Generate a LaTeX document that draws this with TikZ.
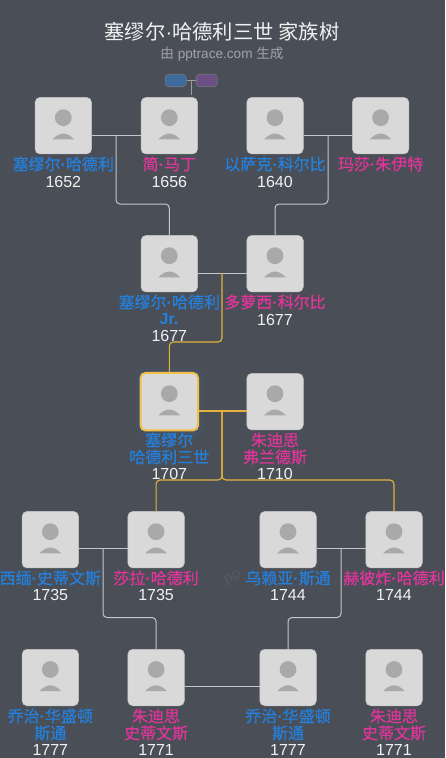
\documentclass[tikz,border=0pt]{standalone}
\usepackage{fontspec}
\setmainfont{Liberation Sans}
\newfontfamily\cjk{Noto Sans CJK SC}
\newfontfamily\cjkm[FakeBold=0.6]{Noto Sans CJK SC}
\usetikzlibrary{calc}
\definecolor{bgc}{HTML}{4A4F57}
\definecolor{cardc}{HTML}{D9D9D9}
\definecolor{iconc}{HTML}{A9A9A9}
\definecolor{malec}{HTML}{2480DC}
\definecolor{femc}{HTML}{E0359A}
\definecolor{goldc}{HTML}{E3B23C}
\definecolor{focusc}{HTML}{F2C044}
\definecolor{linec}{HTML}{C4C6C9}
\definecolor{pillm}{HTML}{3D6B9E}
\definecolor{pillf}{HTML}{6C4F85}
\newcommand{\dotc}{{\rmfamily\bfseries\textperiodcentered}}
\tikzset{
  x=1pt,y=-1pt,
  card/.style={draw=#1,fill=cardc,rounded corners=5pt,minimum width=56.5pt,minimum height=56.5pt,inner sep=0pt,line width=.5pt},
  card/.default={cardc!85!bgc},
  focus/.style={draw=focusc,fill=cardc,rounded corners=5pt,minimum width=57.5pt,minimum height=57.5pt,inner sep=0pt,line width=2pt},
  namem/.style={text=malec,font=\cjkm\fontsize{16}{17}\selectfont,align=center,inner sep=0pt,anchor=center},
  namef/.style={text=femc,font=\cjkm\fontsize{16}{17}\selectfont,align=center,inner sep=0pt,anchor=center},
  yearl/.style={text=white!92!bgc,font=\fontsize{16}{17}\selectfont,inner sep=0pt,anchor=center},
  link/.style={draw=linec,line width=1pt,rounded corners=4pt},
  glink/.style={draw=goldc,line width=1.1pt,rounded corners=4pt},
  pill/.style={rounded corners=3.5pt,minimum width=21pt,minimum height=12.5pt,inner sep=0pt,line width=.6pt},
}
\newcommand{\person}[4][card]{% style, name, x, y(top)
  \node[#1] (#2) at (#3,#4+28.5) {};
  \fill[iconc] (#3,#4+20.5) circle (8.4pt);
  \fill[iconc] (#3-11,#4+42.2) .. controls (#3-7,#4+38) and (#3-3,#4+36.3) .. (#3,#4+36.3) .. controls (#3+3,#4+36.3) and (#3+7,#4+38) .. (#3+11,#4+42.2) -- cycle;
}
\begin{document}
\begin{tikzpicture}
\useasboundingbox (0,0) rectangle (445,758);
\fill[bgc] (0,0) rectangle (445,758);
% glow round the focus person
\foreach \r/\o in {34/.04,31/.05,28/.07}{
  \fill[malec,opacity=\o,rounded corners=10pt] (169.3-\r-2,402-\r-2) rectangle (169.3+\r+2,402+\r+2);
}
% title
\node[text=white!92!bgc,font=\cjk\fontsize{20.3}{22}\selectfont,inner sep=0pt] (title) at (222,32) {塞缪尔{\rmfamily\textperiodcentered}哈德利三世 家族树};
\node[text=white!48!bgc,font=\fontsize{13.6}{15}\selectfont,inner sep=0pt] (sub) at (222,54.5) {{\cjk 由} pptrace.com {\cjk 生成}};
% watermark
\node[text=white,opacity=.05,rotate=30,font=\fontsize{15}{17}\selectfont\bfseries,inner sep=0pt] (wm) at (233,578) {pp};
% legend
\node[pill,fill=pillm,draw=white!22!bgc] (lm) at (175.7,80.5) {};
\node[pill,fill=pillf,draw=white!22!bgc] (lf) at (206.7,80.5) {};
\coordinate (lj) at (191,80.5);
\coordinate (ld) at (191,95);
\draw[draw=white!45!bgc,line width=.8pt] (lm) -- (lf);
\draw[draw=white!45!bgc,line width=.8pt] (lj) -- (ld);
% junctions and levels
\coordinate (j1) at (116,135.5); \coordinate (b1) at (0,204);
\coordinate (j2) at (328,135.5);
\coordinate (j3) at (222,273);   \coordinate (b3) at (0,342);
\coordinate (j4) at (222,411);   \coordinate (b4) at (0,480);
\coordinate (j5) at (103,548.5); \coordinate (b5) at (0,617.5);
\coordinate (j6) at (341,548.5);
\coordinate (j7) at (222,686.5);
% persons
\person{a1}{63.3}{97.2}
\person{a2}{169.3}{97.2}
\person{a3}{275}{97.2}
\person{a4}{380.6}{97.2}
\person{p1}{169.3}{235.2}
\person{p2}{275}{235.2}
\person[focus]{s1}{169.3}{373.2}
\person{s2}{275}{373.2}
\person{k1}{50.3}{511.2}
\person{k2}{156.1}{511.2}
\person{k3}{288}{511.2}
\person{k4}{394}{511.2}
\person{g1}{50.3}{649}
\person{g2}{156.1}{649}
\person{g3}{288}{649}
\person{g4}{394}{649}
% connectors
\draw[link] (a1.east |- j1) -- (a2.west |- j1);
\draw[link] (a3.east |- j2) -- (a4.west |- j2);
\draw[link] (j1) -- (j1 |- b1) -- (p1.north |- b1) -- (p1.north);
\draw[link] (j2) -- (j2 |- b1) -- (p2.north |- b1) -- (p2.north);
\draw[link] (p1.east |- j3) -- (p2.west |- j3);
\draw[glink] (j3) -- (j3 |- b3) -- (s1.north |- b3) -- (s1.north);
\draw[glink] (s1.east |- j4) -- (s2.west |- j4);
\draw[glink] (j4) -- (j4 |- b4) -- (k2.north |- b4) -- (k2.north);
\draw[glink] (j4) -- (j4 |- b4) -- (k4.north |- b4) -- (k4.north);
\draw[link] (k1.east |- j5) -- (k2.west |- j5);
\draw[link] (k3.east |- j6) -- (k4.west |- j6);
\draw[link] (j5) -- (j5 |- b5) -- (g2.north |- b5) -- (g2.north);
\draw[link] (j6) -- (j6 |- b5) -- (g3.north |- b5) -- (g3.north);
\draw[link] (g2.east |- j7) -- (g3.west |- j7);
% labels row 1
\node[namem] (na1) at (63.3,164) {塞缪尔\dotc 哈德利};
\node[yearl] (ya1) at (63.3,181.5) {1652};
\node[namef] (na2) at (169.3,164) {简\dotc 马丁};
\node[yearl] (ya2) at (169.3,181.5) {1656};
\node[namem] (na3) at (275,164) {以萨克\dotc 科尔比};
\node[yearl] (ya3) at (275,181.5) {1640};
\node[namef] (na4) at (380.6,164) {玛莎\dotc 朱伊特};
% row 2
\node[namem] (np1) at (169.3,302) {塞缪尔\dotc 哈德利};
\node[text=malec,font=\fontsize{16}{17}\selectfont\bfseries,inner sep=0pt] (np1b) at (169,319) {Jr.};
\node[yearl] (yp1) at (169.3,335.5) {1677};
\node[namef] (np2) at (275,302) {多萝西\dotc 科尔比};
\node[yearl] (yp2) at (275,319.5) {1677};
% row 3
\node[namem] (ns1) at (169.3,440) {塞缪尔};
\node[namem] (ns1b) at (169.3,457) {哈德利三世};
\node[yearl] (ys1) at (169.3,473.5) {1707};
\node[namef] (ns2) at (275,440) {朱迪思};
\node[namef] (ns2b) at (275,457) {弗兰德斯};
\node[yearl] (ys2) at (275,473.5) {1710};
% row 4
\node[namem] (nk1) at (50.3,578) {西缅\dotc 史蒂文斯};
\node[yearl] (yk1) at (50.3,595) {1735};
\node[namef] (nk2) at (156.1,578) {莎拉\dotc 哈德利};
\node[yearl] (yk2) at (156.1,595) {1735};
\node[namem] (nk3) at (288,578) {乌赖亚\dotc 斯通};
\node[yearl] (yk3) at (288,595) {1744};
\node[namef] (nk4) at (394,578) {赫彼炸\dotc 哈德利};
\node[yearl] (yk4) at (394,595) {1744};
% row 5
\node[namem] (ng1) at (50.3,716) {乔治\dotc 华盛顿};
\node[namem] (ng1b) at (50.3,733) {斯通};
\node[yearl] (yg1) at (50.3,749.5) {1777};
\node[namef] (ng2) at (156.1,716) {朱迪思};
\node[namef] (ng2b) at (156.1,733) {史蒂文斯};
\node[yearl] (yg2) at (156.1,749.5) {1771};
\node[namem] (ng3) at (288,716) {乔治\dotc 华盛顿};
\node[namem] (ng3b) at (288,733) {斯通};
\node[yearl] (yg3) at (288,749.5) {1777};
\node[namef] (ng4) at (394,716) {朱迪思};
\node[namef] (ng4b) at (394,733) {史蒂文斯};
\node[yearl] (yg4) at (394,749.5) {1771};
\end{tikzpicture}
\end{document}
